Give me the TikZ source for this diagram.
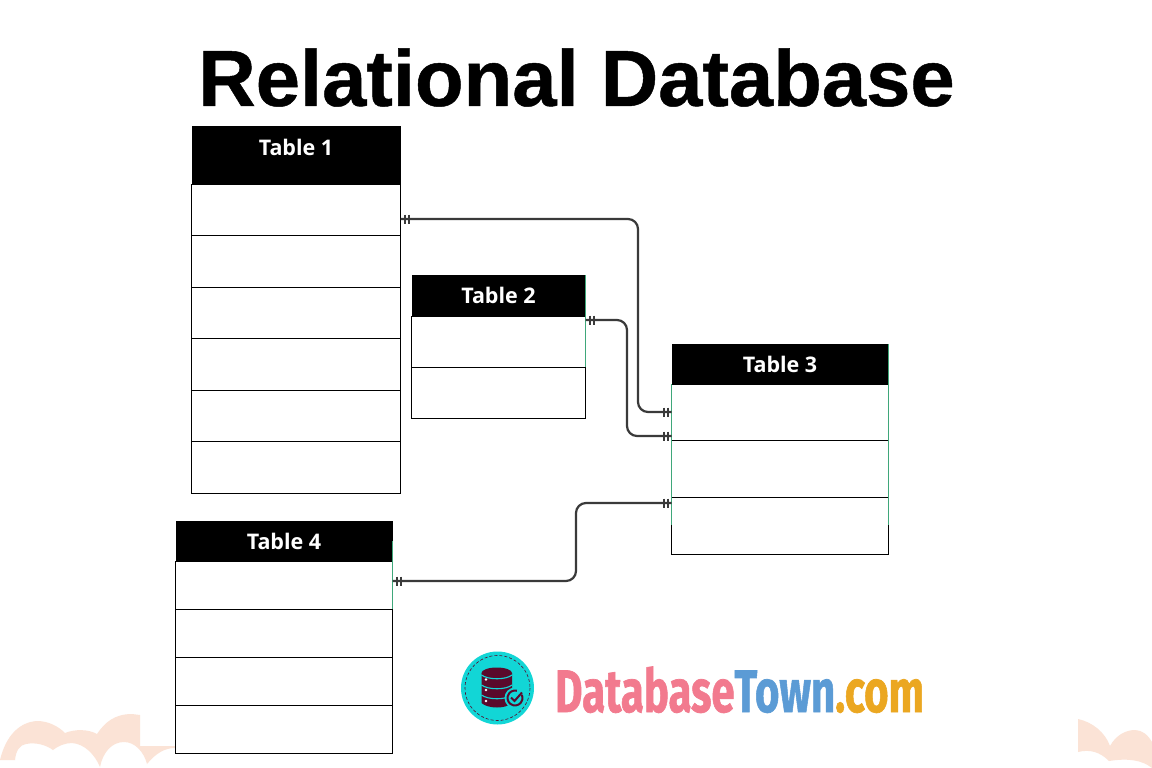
\documentclass[tikz,border=0pt]{standalone}
\usepackage{fontspec}
\setmainfont{Liberation Sans}
\newfontfamily\titlefont[FakeBold=0.6]{Liberation Sans Bold}
\newfontfamily\tablefont{Open Sans}
\newfontfamily\logofont[FakeBold=1.2]{Fira Sans Bold}
\usetikzlibrary{calc}
\definecolor{conn}{HTML}{3A3A3A}
\definecolor{edgegreen}{HTML}{3FA77A}
\definecolor{cloud}{HTML}{FBE3D6}
\definecolor{logoteal}{HTML}{12D6D6}
\definecolor{logodb}{HTML}{5A0A2C}
\definecolor{logopink}{HTML}{F27A8E}
\definecolor{logoblue}{HTML}{5B9BD5}
\definecolor{logoorange}{HTML}{EBA721}
\tikzset{
  x=1pt,y=-1pt,
  hdr/.style={fill=black,text=white,inner sep=0pt,outer sep=0pt,font=\tablefont\bfseries\fontsize{21.5}{24}\selectfont},
  rowbox/.style={draw=black,line width=0.9pt,inner sep=0pt,outer sep=0pt,fill=white},
  conline/.style={draw=conn,line width=2.2pt,rounded corners=10pt},
  tickmark/.style={draw=conn,line width=1.9pt},
  greenedge/.style={draw=edgegreen,line width=1.6pt},
  dbline/.style={draw=logoteal,line width=1.1pt},
}
\newcommand{\hdrnode}[6]{\node[hdr,minimum width=#4pt,minimum height=#5pt,anchor=north west] (#1) at (#2,#3) {#6};}
\newcommand{\rownode}[5]{\node[rowbox,minimum width=#4pt,minimum height=#5pt,anchor=north west] (#1) at (#2,#3) {};}
\begin{document}
\begin{tikzpicture}
\useasboundingbox (0,0) rectangle (1152,768);
\fill[white] (0,0) rectangle (1152,768);

% corner clouds
\fill[cloud] (0,760) .. controls (6,735) and (20,722) .. (37,721)
  .. controls (48,721) and (58,726) .. (65,733)
  .. controls (75,729) and (88,729) .. (97,734)
  .. controls (105,722) and (115,714) .. (132,714) -- (140,715) -- (140,746) -- (175,746) -- (175,748)
  .. controls (165,748) and (156,753) .. (147,764)
  .. controls (144,752) and (135,742) .. (124,742)
  .. controls (112,742) and (103,752) .. (100,767)
  .. controls (95,755) and (85,744) .. (72,743)
  .. controls (65,743) and (58,746) .. (53,750)
  .. controls (46,745) and (36,742) .. (26,744)
  .. controls (20,745) and (16,750) .. (15,760) -- cycle;
\fill[cloud] (1078,719) .. controls (1092,722) and (1105,732) .. (1110,746)
  .. controls (1116,735) and (1126,730) .. (1135,730)
  .. controls (1142,730) and (1148,735) .. (1152,742) -- (1152,768)
  .. controls (1142,760) and (1128,758) .. (1109,761)
  .. controls (1100,752) and (1090,749) .. (1078,752) -- cycle;

% title
\node[font=\titlefont\fontsize{79.6}{90}\selectfont] (title) at (576.5,77.5) {Relational Database};

% Table 1
\hdrnode{t1h}{191.5}{126}{209}{58}{\raisebox{16pt}{Table 1}}
\rownode{t1a}{191.5}{184}{209}{51.5}
\rownode{t1b}{191.5}{235.5}{209}{51.5}
\rownode{t1c}{191.5}{287}{209}{51.5}
\rownode{t1d}{191.5}{338.5}{209}{51.5}
\rownode{t1e}{191.5}{390}{209}{51.5}
\rownode{t1f}{191.5}{441.5}{209}{51.5}

% Table 2
\hdrnode{t2h}{411.5}{275}{174}{41}{Table 2}
\rownode{t2a}{411.5}{316}{174}{51}
\rownode{t2b}{411.5}{367}{174}{51}

% Table 3
\hdrnode{t3h}{671.5}{344}{217}{40}{Table 3}
\rownode{t3a}{671.5}{384}{217}{56.5}
\rownode{t3b}{671.5}{440.5}{217}{56.5}
\rownode{t3c}{671.5}{497}{217}{57}

% Table 4
\hdrnode{t4h}{175.5}{521}{217}{40}{Table 4}
\rownode{t4a}{175.5}{561}{217}{48}
\rownode{t4b}{175.5}{609}{217}{48}
\rownode{t4c}{175.5}{657}{217}{48}
\rownode{t4d}{175.5}{705}{217}{48}

% green edges
\draw[greenedge] (t2h.north east) -- (t2a.south east);
\draw[greenedge] (t3h.north east) -- ([yshift=-28pt]t3c.north east);
\draw[greenedge] (t3a.north west) -- ([yshift=-28pt]t3c.north west);
\draw[greenedge] (t4h.south east) ++(0,-20) -- (t4a.south east);

% connector end points
\coordinate (c1s) at ([yshift=-9.25pt]t1a.east);
\coordinate (c1e) at ([yshift=0.25pt]t3a.west);
\coordinate (c2s) at ([yshift=-4pt]t2a.north east);
\coordinate (c2e) at ([yshift=-52pt]t3a.north west);
\coordinate (c3s) at ([yshift=4pt]t4a.east);
\coordinate (c3e) at ([yshift=-6pt]t3c.north west);

% connectors
\draw[conline] (c1s) -- (638,219) -- (638,412) -- (c1e);
\draw[conline] (c2s) -- (627,320) -- (627,436) -- (c2e);
\draw[conline] (c3s) -- (576,581) -- (576,503) -- (c3e);

% crow-foot bars
\foreach \p in {c1s,c2s,c3s}{
  \draw[tickmark] ([xshift=4.5pt,yshift=4.5pt]\p) -- ([xshift=4.5pt,yshift=-4.5pt]\p);
  \draw[tickmark] ([xshift=8.5pt,yshift=4.5pt]\p) -- ([xshift=8.5pt,yshift=-4.5pt]\p);
}
\foreach \p in {c1e,c2e,c3e}{
  \draw[tickmark] ([xshift=-3.5pt,yshift=4.5pt]\p) -- ([xshift=-3.5pt,yshift=-4.5pt]\p);
  \draw[tickmark] ([xshift=-7.5pt,yshift=4.5pt]\p) -- ([xshift=-7.5pt,yshift=-4.5pt]\p);
}

% logo
\fill[logoteal] (497.5,688) circle[radius=36.5];
\draw[logodb,line width=0.6pt,densely dashed] (497.5,688) circle[radius=32.5];
\fill[logodb] (481.5,673) -- (481.5,703) .. controls (488,709) and (506,709) .. (512,703) -- (512,673) -- cycle;
\fill[logodb] (496.75,673) ellipse[x radius=15.25,y radius=5.5];
\draw[dbline] (481.5,675) .. controls (488,680) and (506,680) .. (512,675);
\draw[dbline] (481.5,685) .. controls (488,690) and (506,690) .. (512,685);
\draw[dbline] (481.5,695) .. controls (488,700) and (506,700) .. (512,695);
\fill[white] (486,679.5) circle[radius=1.4] (486,690) circle[radius=1.4] (486,701) circle[radius=1.4];
\fill[logoteal] (515,698) circle[radius=10.5];
\draw[logodb,line width=2pt] (515,698) ++(-75:7.5) arc[start angle=-75,end angle=-385,radius=7.5];
\draw[logodb,line width=2pt] (511,697.5) -- (514.5,701) -- (522,692.5);

\node[anchor=base west,inner sep=0pt,font=\logofont\fontsize{60}{60}\selectfont] (logotext) at (555,712)
  {\scalebox{0.70}[1]{\textcolor{logopink}{Database}\textcolor{logoblue}{Town}\textcolor{logoorange}{.com}}};
\end{tikzpicture}
\end{document}
